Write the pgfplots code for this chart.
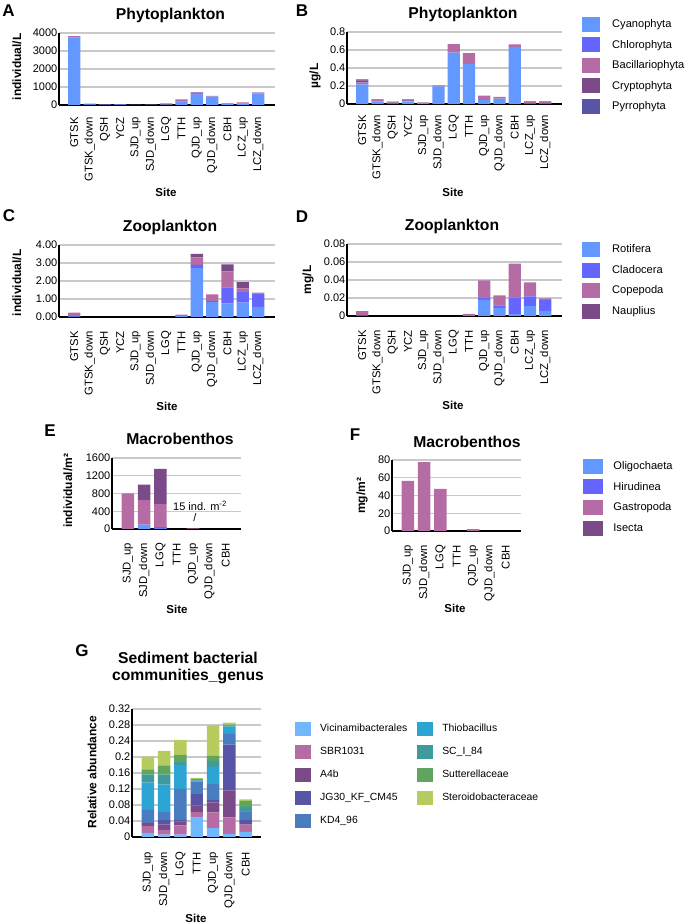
\documentclass[border=0pt]{standalone}
\usepackage{fontspec}
\setmainfont{Liberation Sans}
\usepackage{pgfplots}
\usepackage{pgfplotstable}
\pgfplotsset{compat=1.18}

\definecolor{cyano}{HTML}{6298FF}
\definecolor{chloro}{HTML}{6565FF}
\definecolor{bacil}{HTML}{B56BA4}
\definecolor{crypto}{HTML}{7A4A89}
\definecolor{pyrro}{HTML}{5855A6}
\definecolor{vic}{HTML}{70B7FC}
\definecolor{kd}{HTML}{4A7DBF}
\definecolor{thio}{HTML}{2CA5D4}
\definecolor{sci}{HTML}{3F9A9B}
\definecolor{sut}{HTML}{5FA560}
\definecolor{ster}{HTML}{B7CC5F}

% Panel A: phytoplankton abundance (individual/L)
\pgfplotstableread{
idx Cy Ch Ba Cr Py
0 3760 20 40 0 0
1 40 10 20 0 0
2 15 5 10 0 0
3 35 5 5 0 0
4 5 0 5 0 0
5 10 0 5 0 0
6 20 0 55 10 0
7 200 20 80 15 0
8 580 20 60 40 0
9 470 0 30 0 0
10 70 0 30 10 0
11 90 10 50 0 0
12 650 0 50 0 0
}\tabA
% Panel B: phytoplankton biomass (ug/L)
\pgfplotstableread{
idx Cy Ch Ba Cr Py
0 0.217 0 0.022 0.022 0.012
1 0.030 0 0.015 0.007 0
2 0.005 0 0.010 0.011 0
3 0.020 0.005 0.005 0.010 0.012
4 0.010 0 0.008 0 0
5 0.195 0 0.012 0 0
6 0.572 0 0.093 0 0
7 0.445 0 0.120 0 0
8 0.045 0 0.048 0 0
9 0.060 0 0.018 0 0
10 0.636 0 0.026 0 0
11 0.003 0 0.020 0.007 0
12 0.003 0 0.020 0.007 0
}\tabB
% Panel C: zooplankton abundance (individual/L)
\pgfplotstableread{
idx Ro Cl Co Na
0 0.03 0.02 0.19 0
1 0 0 0 0
2 0 0 0 0
3 0 0 0 0
4 0 0 0 0
5 0 0 0 0
6 0 0 0 0
7 0.06 0 0.07 0
8 2.71 0.19 0.41 0.19
9 0.82 0.06 0.37 0
10 0.75 0.89 0.90 0.39
11 0.80 0.58 0.21 0.35
12 0.56 0.75 0.05 0
}\tabC
% Panel D: zooplankton biomass (mg/L)
\pgfplotstableread{
idx Ro Cl Co Na
0 0 0.0005 0.0048 0
1 0 0 0 0
2 0 0 0 0
3 0 0 0 0
4 0 0 0 0
5 0 0 0 0
6 0 0 0 0
7 0 0 0.0023 0
8 0.018 0.0028 0.0188 0
9 0.009 0.0027 0.0113 0
10 0.002 0.0184 0.0377 0
11 0.011 0.0109 0.0155 0
12 0.0053 0.0124 0.0019 0
}\tabD
% Panel E: macrobenthos density (individual/m2)
\pgfplotstableread{
idx Ol Hi Ga Is
0 0 0 800 0
1 100 0 550 352
2 10 40 510 793
3 0 0 0 0
4 0 0 15 0
5 0 0 0 0
6 0 0 0 0
}\tabE
% Panel F: macrobenthos biomass (mg/m2)
\pgfplotstableread{
idx Ol Hi Ga Is
0 0 0 56.6 0
1 0 0 77.7 0
2 0 0 47.6 0
3 0 0 0 0
4 0 0 2.2 0
5 0 0 0 0
6 0 0 0 0
}\tabF
% Panel G: sediment bacterial genera (relative abundance)
\pgfplotstableread{
idx Vi SB A4 JG KD Th SC Su St
0 0.010 0.017 0.006 0.002 0.033 0.068 0.020 0.013 0.032
1 0.006 0.012 0.013 0.011 0.020 0.069 0.025 0.023 0.036
2 0.006 0.023 0.010 0.004 0.077 0.060 0.007 0.018 0.038
3 0.050 0.012 0.017 0.028 0.032 0.002 0.001 0.003 0.003
4 0.0225 0.039 0.025 0.0065 0.039 0.043 0.015 0.013 0.076
5 0.0075 0.0415 0.067 0.115 0.027 0.018 0.003 0.002 0.005
6 0.0125 0.0185 0.002 0.010 0.019 0.003 0.010 0.015 0.004
}\tabG

\pgfplotsset{
 panel/.style={
  scale only axis,
  ybar stacked,
  ymin=0,
  scaled y ticks=false,
  axis x line*=bottom,
  axis y line*=left,
  axis line style={-, black, line width=1.1pt},
  ymajorgrids,
  grid style={black!21, line width=1.2pt},
  major tick length=0pt,
  yticklabel style={inner sep=1.5pt, font=\fontsize{11}{12}\selectfont},
  xticklabel style={rotate=90, anchor=east, inner sep=0pt, font=\fontsize{11.3}{12}\selectfont},
  bar width=0.8,
 },
 sites13/.style={xmin=-1, xmax=13.1, xtick={0,...,12},
   xticklabels={GTSK,GTSK\_down,QSH,YCZ,SJD\_up,SJD\_down,LGQ,TTH,QJD\_up,QJD\_down,CBH,LCZ\_up,LCZ\_down}},
 sites7/.style={xmin=-0.97, xmax=6.94, xtick={0,...,6},
   xticklabels={SJD\_up,SJD\_down,LGQ,TTH,QJD\_up,QJD\_down,CBH}, bar width=0.76},
 leg/.style={legend cell align=left,
   legend style={draw=none, fill=none, inner sep=0pt, anchor=north west,
     font=\fontsize{11.1}{12}\selectfont, row sep=5.6pt,
     nodes={inner sep=0pt},
     /tikz/every odd column/.append style={column sep=12pt}}},
}

\tikzset{
 letter/.style={font=\fontsize{17}{20}\selectfont\bfseries},
 ttl/.style={font=\fontsize{15.7}{18}\selectfont\bfseries},
 ylab/.style={font=\fontsize{12}{14}\selectfont\bfseries, rotate=90},
 site/.style={font=\fontsize{11.5}{13}\selectfont\bfseries},
}

\begin{document}
\begin{tikzpicture}[x=1pt,y=1pt]
\path[use as bounding box] (0,0) rectangle (685,923);

% ---------- A ----------
\begin{axis}[panel, sites13, at={(59pt,818pt)}, anchor=south west, width=216pt, height=72pt,
  ymax=4000, ytick={0,1000,2000,3000,4000}, yticklabels={0,1000,2000,3000,4000},
  xticklabel shift=12pt]
\addplot[fill=cyano, draw=none] table[x=idx,y=Cy]{\tabA};
\addplot[fill=chloro, draw=none] table[x=idx,y=Ch]{\tabA};
\addplot[fill=bacil, draw=none] table[x=idx,y=Ba]{\tabA};
\addplot[fill=crypto, draw=none] table[x=idx,y=Cr]{\tabA};
\addplot[fill=pyrro, draw=none] table[x=idx,y=Py]{\tabA};
\end{axis}

% ---------- B ----------
\begin{axis}[panel, sites13, leg, at={(347pt,819pt)}, anchor=south west, width=215pt, height=72pt,
  ymax=0.8, ytick={0,0.2,0.4,0.6,0.8}, yticklabels={0,0.2,0.4,0.6,0.8},
  xticklabel shift=11pt,
  legend style={at={(1.093,1.2153)}},
  legend image code/.code={\fill[#1] (0pt,-7.5pt) rectangle (18pt,7.5pt);}]
\addplot[fill=cyano, draw=none] table[x=idx,y=Cy]{\tabB};
\addplot[fill=chloro, draw=none] table[x=idx,y=Ch]{\tabB};
\addplot[fill=bacil, draw=none] table[x=idx,y=Ba]{\tabB};
\addplot[fill=crypto, draw=none] table[x=idx,y=Cr]{\tabB};
\addplot[fill=pyrro, draw=none] table[x=idx,y=Py]{\tabB};
\legend{Cyanophyta,Chlorophyta,Bacillariophyta,Cryptophyta,Pyrrophyta}
\end{axis}

% ---------- C ----------
\begin{axis}[panel, sites13, at={(59pt,606pt)}, anchor=south west, width=216pt, height=72pt,
  ymax=4, ytick={0,1,2,3,4}, yticklabels={0.00,1.00,2.00,3.00,4.00},
  xticklabel shift=14pt]
\addplot[fill=cyano, draw=none] table[x=idx,y=Ro]{\tabC};
\addplot[fill=chloro, draw=none] table[x=idx,y=Cl]{\tabC};
\addplot[fill=bacil, draw=none] table[x=idx,y=Co]{\tabC};
\addplot[fill=crypto, draw=none] table[x=idx,y=Na]{\tabC};
\end{axis}

% ---------- D ----------
\begin{axis}[panel, sites13, leg, at={(347pt,607pt)}, anchor=south west, width=215pt, height=72pt,
  ymax=0.08, ytick={0,0.02,0.04,0.06,0.08}, yticklabels={0,0.02,0.04,0.06,0.08},
  xticklabel shift=14pt,
  legend style={at={(1.093,1.0306)}},
  legend image code/.code={\fill[#1] (0pt,-7.5pt) rectangle (18pt,7.5pt);}]
\addplot[fill=cyano, draw=none] table[x=idx,y=Ro]{\tabD};
\addplot[fill=chloro, draw=none] table[x=idx,y=Cl]{\tabD};
\addplot[fill=bacil, draw=none] table[x=idx,y=Co]{\tabD};
\addplot[fill=crypto, draw=none] table[x=idx,y=Na]{\tabD};
\legend{Rotifera,Cladocera,Copepoda,Nauplius}
\end{axis}

% ---------- E ----------
\begin{axis}[panel, sites7, at={(112pt,394pt)}, anchor=south west, width=129pt, height=71pt,
  ymax=1600, ytick={0,400,800,1200,1600}, yticklabels={0,400,800,1200,1600},
  xticklabel shift=14pt]
\addplot[fill=cyano, draw=none] table[x=idx,y=Ol]{\tabE};
\addplot[fill=chloro, draw=none] table[x=idx,y=Hi]{\tabE};
\addplot[fill=bacil, draw=none] table[x=idx,y=Ga]{\tabE};
\addplot[fill=crypto, draw=none] table[x=idx,y=Is]{\tabE};
\end{axis}

% ---------- F ----------
\begin{axis}[panel, sites7, leg, at={(392pt,392pt)}, anchor=south west, width=129pt, height=71pt,
  ymax=80, ytick={0,20,40,60,80}, yticklabels={0,20,40,60,80},
  xticklabel shift=14pt,
  legend style={at={(1.4806,1.0211)}, /tikz/every odd column/.append style={column sep=10.7pt}},
  legend image code/.code={\fill[#1] (0pt,-7.5pt) rectangle (19.5pt,7.5pt);}]
\addplot[fill=cyano, draw=none] table[x=idx,y=Ol]{\tabF};
\addplot[fill=chloro, draw=none] table[x=idx,y=Hi]{\tabF};
\addplot[fill=bacil, draw=none] table[x=idx,y=Ga]{\tabF};
\addplot[fill=crypto, draw=none] table[x=idx,y=Is]{\tabF};
\legend{Oligochaeta,Hirudinea,Gastropoda,Isecta}
\end{axis}

% ---------- G ----------
\begin{axis}[panel, sites7, at={(132pt,86pt)}, anchor=south west, width=129pt, height=128pt,
  ymax=0.32, ytick={0,0.04,0.08,0.12,0.16,0.2,0.24,0.28,0.32},
  yticklabels={0,0.04,0.08,0.12,0.16,0.2,0.24,0.28,0.32},
  xticklabel shift=15pt,
  legend cell align=left,
  legend columns=5, transpose legend,
  legend style={at={(1.2636,0.9039)}, anchor=north west, draw=none, fill=none, inner sep=0pt,
     font=\fontsize{10.4}{12}\selectfont, row sep=9.1pt, nodes={inner sep=0pt},
     /tikz/every odd column/.append style={column sep=9pt},
     /tikz/every even column/.append style={column sep=10pt}},
  legend image code/.code={\fill[#1] (0pt,-7pt) rectangle (16pt,7pt);}]
\addplot[fill=vic, draw=none] table[x=idx,y=Vi]{\tabG};
\addplot[fill=bacil, draw=none] table[x=idx,y=SB]{\tabG};
\addplot[fill=crypto, draw=none] table[x=idx,y=A4]{\tabG};
\addplot[fill=pyrro, draw=none] table[x=idx,y=JG]{\tabG};
\addplot[fill=kd, draw=none] table[x=idx,y=KD]{\tabG};
\addplot[fill=thio, draw=none] table[x=idx,y=Th]{\tabG};
\addplot[fill=sci, draw=none] table[x=idx,y=SC]{\tabG};
\addplot[fill=sut, draw=none] table[x=idx,y=Su]{\tabG};
\addplot[fill=ster, draw=none] table[x=idx,y=St]{\tabG};
\legend{Vicinamibacterales,SBR1031,A4b,JG30\_KF\_CM45,KD4\_96,Thiobacillus,SC\_I\_84,Sutterellaceae,Steroidobacteraceae}
\end{axis}

% ---------- text ----------
\node[letter] at (8.5,912) {A};
\node[letter] at (302,912) {B};
\node[letter] at (9,707) {C};
\node[letter] at (302,706) {D};
\node[letter] at (50,492) {E};
\node[letter] at (355,488) {F};
\node[letter] at (82,272) {G};

\node[ttl] at (170.5,908) {Phytoplankton};
\node[ttl] at (463,909) {Phytoplankton};
\node[ttl] at (170,696) {Zooplankton};
\node[ttl] at (452,697) {Zooplankton};
\node[ttl] at (180,484) {Macrobenthos};
\node[ttl] at (467,481) {Macrobenthos};
\node[ttl, align=center] at (188,255) {Sediment bacterial\\[-1pt]communities\_genus};

\node[ylab] at (17,856) {individual/L};
\node[ylab] at (315,847) {µg/L};
\node[ylab] at (17,640) {individual/L};
\node[ylab] at (308,643) {mg/L};
\node[ylab] at (68,432) {individual/m²};
\node[ylab] at (362,427) {mg/m²};
\node[ylab] at (92,151) {Relative abundance};

\node[site] at (166,731) {Site};
\node[site] at (453,731) {Site};
\node[site] at (167,517) {Site};
\node[site] at (453,518) {Site};
\node[site] at (177,314) {Site};
\node[site] at (455,315) {Site};
\node[site] at (196,5) {Site};

\node[font=\fontsize{11}{13}\selectfont] at (200,417) {15 ind. m\textsuperscript{-2}};
\node[font=\fontsize{11}{13}\selectfont] at (195,405) {/};
\end{tikzpicture}
\end{document}
